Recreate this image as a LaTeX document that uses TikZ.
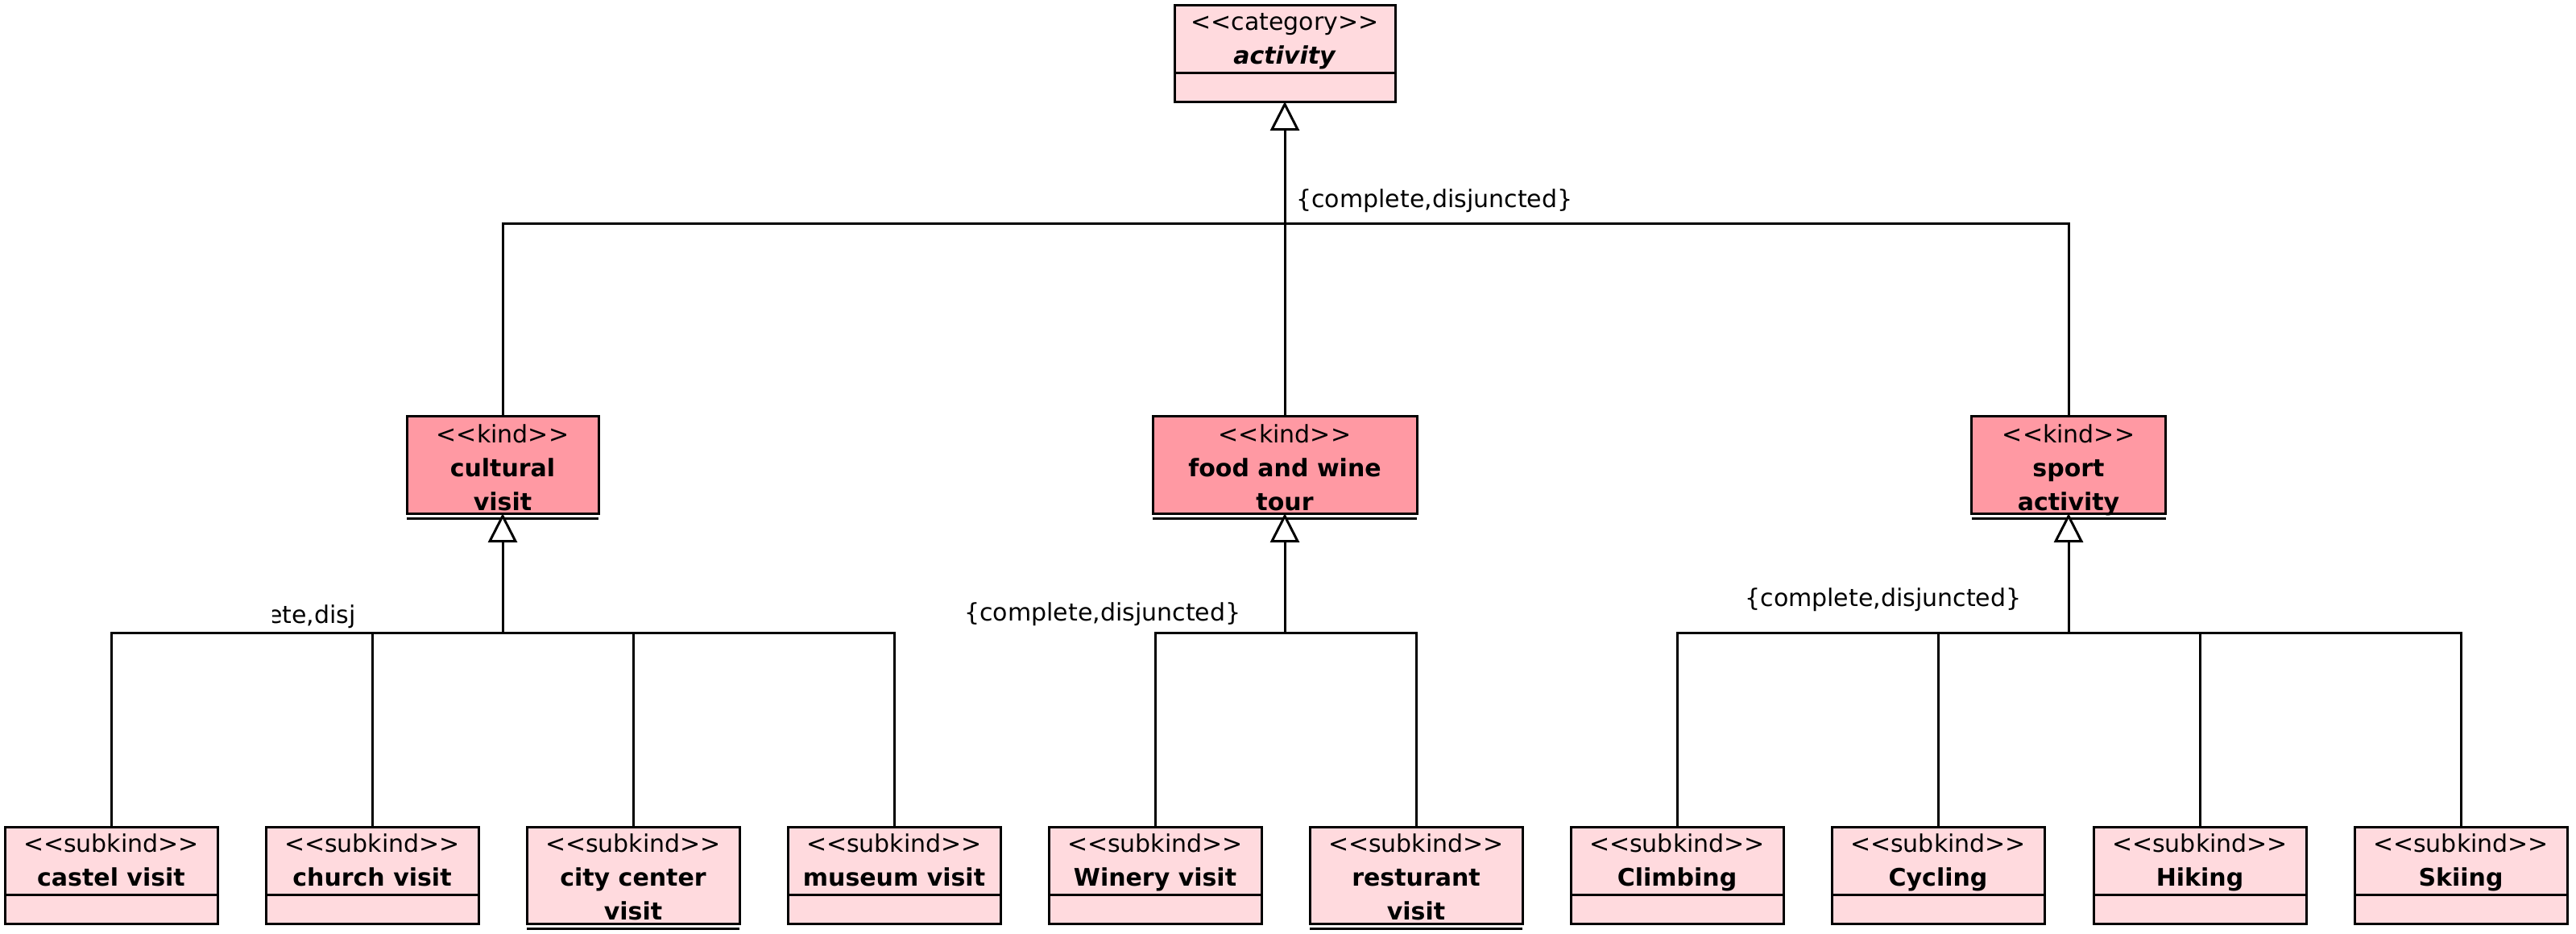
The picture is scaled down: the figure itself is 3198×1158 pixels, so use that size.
\documentclass[tikz,border=0pt]{standalone}
\usepackage{fontspec}
\setmainfont{DejaVu Sans}
\usetikzlibrary{arrows.meta}
\definecolor{lightpink}{RGB}{255,218,222}
\definecolor{kindpink}{RGB}{255,153,163}
\newcommand\lgu{<\kern0pt<}
\newcommand\rgu{>\kern0pt>}
% #1 name, #2 x, #3 top y, #4 width, #5 height, #6 fill, #7 text shift, #8 text
\newcommand\umlclass[8]{%
  \node[boxshape, fill=#6, minimum width=#4, minimum height=#5] (#1) at (#2,#3) {};
  \node[boxtext] (#1-name) at ([yshift=#7]#1.north) {#8};
}
% empty attribute compartment below a class: #1 name, #2 width, #3 fill
\newcommand\umlattr[3]{%
  \node[boxshape, fill=#3, minimum width=#2, minimum height=18pt] (#1-attr) at (#1.south) {};
}
% collapsed compartment drawn as a double line
\newcommand\umlcollapsed[1]{%
  \draw[tree] ([yshift=-3pt]#1.south west) -- ([yshift=-3pt]#1.south east);
}
\begin{document}
\begin{tikzpicture}[x=0.5pt,y=-0.5pt,
  boxshape/.style={draw, line width=1.5pt, rectangle, inner sep=0pt, outer sep=0pt, anchor=north},
  boxtext/.style={align=center, inner sep=0pt, anchor=north, font=\fontsize{15pt}{21pt}\selectfont},
  tree/.style={line width=1.5pt},
  gen/.style={line width=1.5pt, -{Triangle[open, fill=white, length=18pt, width=18pt]}},
  constraint/.style={inner sep=0pt, anchor=base west, font=\fontsize{15pt}{21pt}\selectfont}
]
\useasboundingbox (0,0) rectangle (3198,1158);

% top category
\umlclass{activity}{1595}{6}{137pt}{42pt}{lightpink}{-1pt}{\strut\lgu category\rgu\\\strut\textbf{\textit{activity}}}
\umlattr{activity}{137pt}{lightpink}

% kinds
\umlclass{cultural}{624}{516}{119pt}{60.5pt}{kindpink}{-1.8pt}{\strut\lgu kind\rgu\\\strut\textbf{cultural}\\\strut\textbf{visit}}
\umlcollapsed{cultural}
\umlclass{food}{1595}{516}{164pt}{60.5pt}{kindpink}{-1.8pt}{\strut\lgu kind\rgu\\\strut\textbf{food and wine}\\\strut\textbf{tour}}
\umlcollapsed{food}
\umlclass{sport}{2568}{516}{120.5pt}{60.5pt}{kindpink}{-1.8pt}{\strut\lgu kind\rgu\\\strut\textbf{sport}\\\strut\textbf{activity}}
\umlcollapsed{sport}

% subkinds
\umlclass{castel}{138}{1026}{132pt}{42pt}{lightpink}{-1pt}{\strut\lgu subkind\rgu\\\strut\textbf{castel visit}}
\umlattr{castel}{132pt}{lightpink}
\umlclass{church}{462}{1026}{132pt}{42pt}{lightpink}{-1pt}{\strut\lgu subkind\rgu\\\strut\textbf{church visit}}
\umlattr{church}{132pt}{lightpink}
\umlclass{city}{786}{1026}{132pt}{60pt}{lightpink}{-1pt}{\strut\lgu subkind\rgu\\\strut\textbf{city center}\\\strut\textbf{visit}}
\umlcollapsed{city}
\umlclass{museum}{1110}{1026}{132pt}{42pt}{lightpink}{-1pt}{\strut\lgu subkind\rgu\\\strut\textbf{museum visit}}
\umlattr{museum}{132pt}{lightpink}
\umlclass{winery}{1434}{1026}{132pt}{42pt}{lightpink}{-1pt}{\strut\lgu subkind\rgu\\\strut\textbf{Winery visit}}
\umlattr{winery}{132pt}{lightpink}
\umlclass{resturant}{1758}{1026}{132pt}{60pt}{lightpink}{-1pt}{\strut\lgu subkind\rgu\\\strut\textbf{resturant}\\\strut\textbf{visit}}
\umlcollapsed{resturant}
\umlclass{climbing}{2082}{1026}{132pt}{42pt}{lightpink}{-1pt}{\strut\lgu subkind\rgu\\\strut\textbf{Climbing}}
\umlattr{climbing}{132pt}{lightpink}
\umlclass{cycling}{2406}{1026}{132pt}{42pt}{lightpink}{-1pt}{\strut\lgu subkind\rgu\\\strut\textbf{Cycling}}
\umlattr{cycling}{132pt}{lightpink}
\umlclass{hiking}{2731}{1026}{132pt}{42pt}{lightpink}{-1pt}{\strut\lgu subkind\rgu\\\strut\textbf{Hiking}}
\umlattr{hiking}{132pt}{lightpink}
\umlclass{skiing}{3055}{1026}{132pt}{42pt}{lightpink}{-1pt}{\strut\lgu subkind\rgu\\\strut\textbf{Skiing}}
\umlattr{skiing}{132pt}{lightpink}

% generalization sets
\coordinate (j0) at (1595,277);
\coordinate (j1) at (624,785);
\coordinate (j2) at (1595,785);
\coordinate (j3) at (2568,785);

\foreach \c in {cultural,food,sport} \draw[tree] (\c.north) |- (j0);
\foreach \c in {castel,church,city,museum} \draw[tree] (\c.north) |- (j1);
\foreach \c in {winery,resturant} \draw[tree] (\c.north) |- (j2);
\foreach \c in {climbing,cycling,hiking,skiing} \draw[tree] (\c.north) |- (j3);

\draw[gen] (j0) -- (activity-attr.south);
\draw[gen] (j1) -- (cultural.south);
\draw[gen] (j2) -- (food.south);
\draw[gen] (j3) -- (sport.south);

% constraint labels
\node[constraint] (c0) at (1609,257) {\{complete,disjuncted\}};
\begin{scope}
  \clip (338,700) rectangle (442,800);
  \node[constraint, anchor=base east] (c1) at (442,773) {ete,disj};
\end{scope}
\node[constraint] (c2) at (1197,770) {\{complete,disjuncted\}};
\node[constraint] (c3) at (2166,752) {\{complete,disjuncted\}};
\end{tikzpicture}
\end{document}
